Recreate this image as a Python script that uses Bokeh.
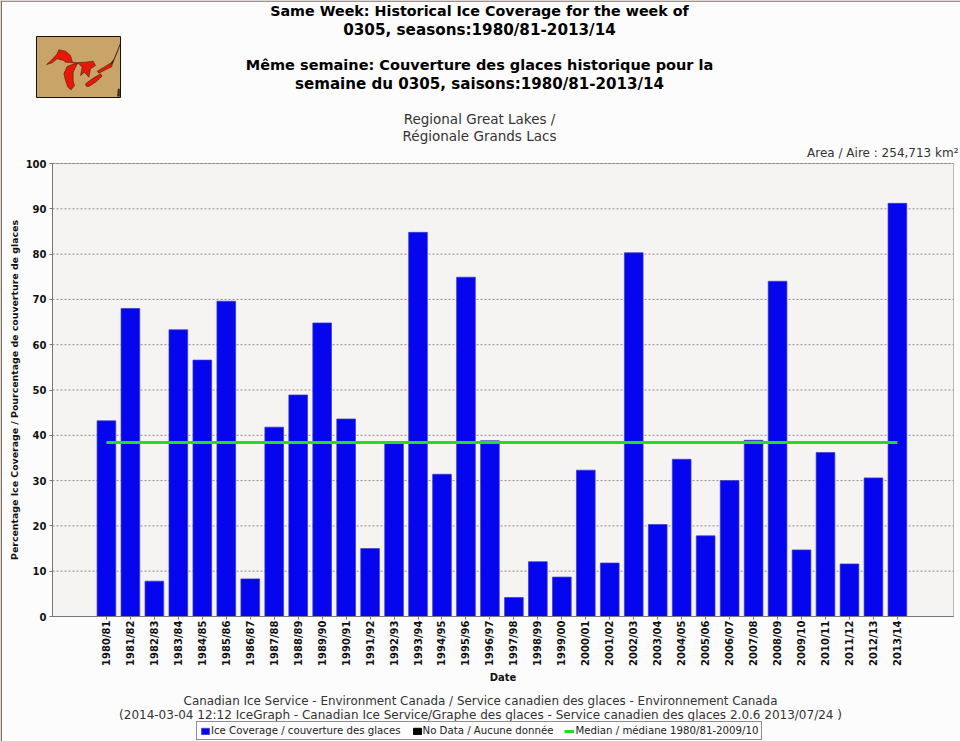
from bokeh.plotting import figure
from bokeh.models import Range1d, FixedTicker, Label, Legend, LegendItem, PolyAnnotation
from bokeh.embed import file_html
from bokeh.resources import INLINE

seasons = ["1980/81","1981/82","1982/83","1983/84","1984/85","1985/86","1986/87","1987/88","1988/89","1989/90",
           "1990/91","1991/92","1992/93","1993/94","1994/95","1995/96","1996/97","1997/98","1998/99","1999/00",
           "2000/01","2001/02","2002/03","2003/04","2004/05","2005/06","2006/07","2007/08","2008/09","2009/10",
           "2010/11","2011/12","2012/13","2013/14"]
coverage = [43.2,68.0,7.8,63.3,56.6,69.6,8.3,41.8,48.9,64.8,43.6,15.0,38.6,84.8,31.4,74.9,38.8,4.2,12.1,8.7,
            32.3,11.8,80.3,20.3,34.7,17.8,30.0,38.9,74.0,14.7,36.2,11.6,30.6,91.2]
median = 38.4
yticks = list(range(0, 101, 10))
title_lines = ["Same Week: Historical Ice Coverage for the week of", "0305, seasons:1980/81-2013/14",
               "Même semaine: Couverture des glaces historique pour la", "semaine du 0305, saisons:1980/81-2013/14"]
sub_lines = ["Regional Great Lakes /", "Régionale Grands Lacs"]
foot_lines = ["Canadian Ice Service - Environment Canada / Service canadien des glaces - Environnement Canada",
              "(2014-03-04 12:12 IceGraph - Canadian Ice Service/Graphe des glaces - Service canadien des glaces 2.0.6 2013/07/24 )"]
area_text = "Area / Aire : 254,713 km²"
ylabel = "Percentage Ice Coverage / Pourcentage de couverture de glaces"
legend_labels = ["Ice Coverage / couverture des glaces", "No Data / Aucune donnée", "Median / médiane 1980/81-2009/10"]

# The plot area fills the whole canvas, so that nothing around the bars is clipped;
# the visible panel is a sub-rectangle of it.
FL, FR, FT, FB = 52, 953, 163, 616
W, H = 960, 741
XMIN, XMAX, YMIN, YMAX = -2.25, 35.34, 0, 100
FONT = "DejaVu Sans"
ppx = (FR - FL) / (XMAX - XMIN)
ppy = (FB - FT) / (YMAX - YMIN)

p = figure(width=W, height=H, output_backend="svg", toolbar_location=None,
           x_range=Range1d(XMIN - FL / ppx, XMAX + (W - FR) / ppx),
           y_range=Range1d(YMIN - (H - FB) / ppy, YMAX + FT / ppy),
           min_border_left=0, min_border_right=0, min_border_top=0, min_border_bottom=0)
p.background_fill_color = "#fdfcfc"
p.border_fill_color = "#fdfcfc"
p.outline_line_color = None
p.grid.visible = False

p.quad(left=XMIN, right=XMAX, bottom=YMIN, top=YMAX, fill_color="#f5f4f3", line_color="#b8b8b8", line_width=1)
p.segment(x0=[XMIN] * len(yticks), x1=[XMAX] * len(yticks), y0=yticks, y1=yticks,
          line_color="#86686a", line_dash="2 2", line_width=0.8)

ax = p.yaxis[0]
ax.fixed_location = XMIN
ax.bounds = (YMIN, YMAX)
ax.ticker = FixedTicker(ticks=yticks)
ax.minor_tick_line_color = None
ax.axis_line_color = "#777777"
ax.major_tick_line_color = "#777777"
ax.major_tick_in = 0
ax.major_tick_out = 3
ax.major_label_standoff = 3
ax.major_label_text_font = FONT
ax.major_label_text_font_style = "bold"
ax.major_label_text_font_size = "10px"
ax.major_label_text_color = "#111111"
ax.axis_label = ylabel
ax.axis_label_text_font = FONT
ax.axis_label_text_font_style = "bold"
ax.axis_label_text_font_size = "9.4px"
ax.axis_label_text_color = "#111111"
ax.axis_label_standoff = 3

xs = list(range(len(seasons)))
bx = p.xaxis[0]
bx.fixed_location = YMIN
bx.bounds = (XMIN, XMAX)
bx.ticker = FixedTicker(ticks=xs)
bx.major_label_overrides = dict(zip(xs, seasons))
bx.major_label_orientation = 1.5708
bx.major_label_standoff = 1
bx.major_label_text_font = FONT
bx.major_label_text_font_style = "bold"
bx.major_label_text_font_size = "10px"
bx.major_label_text_color = "#111111"
bx.minor_tick_line_color = None
bx.axis_line_color = "#777777"
bx.major_tick_line_color = "#777777"
bx.major_tick_in = 0
bx.major_tick_out = 3
bx.axis_label = "Date"
bx.axis_label_text_font = FONT
bx.axis_label_text_font_style = "bold"
bx.axis_label_text_font_size = "10px"
bx.axis_label_text_color = "#111111"
bx.axis_label_standoff = 3

bars = p.vbar(x=xs, top=coverage, width=0.78, bottom=0, fill_color="#0505ee", line_color="#3a3ac8", line_width=0.7)
nodata = p.vbar(x=[0], top=[float("nan")], width=0.78, bottom=0, fill_color="#000000", line_color="#000000")
med = p.line(x=[xs[0], xs[-1]], y=[median, median], line_color="#22dd22", line_width=3)

def sy(y): return H - y

def lab(x, y, t, size, bold=False, align="center", color="#000000"):
    p.add_layout(Label(x=x, y=sy(y), x_units="screen", y_units="screen", text=t,
                       text_font=FONT, text_font_size=size, text_font_style="bold" if bold else "normal",
                       text_color=color, text_align=align, text_baseline="middle"))

for yy, t, s in zip([10, 29, 64, 83], title_lines, ["14.3px", "15.2px", "14.5px", "15.1px"]):
    lab(479, yy, t, s, bold=True)
for yy, t in zip([118, 135], sub_lines):
    lab(479, yy, t, "13.5px", color="#333333")
lab(958, 152, area_text, "12px", align="right", color="#333333")
for yy, t, s in zip([700, 714], foot_lines, ["11.9px", "12px"]):
    lab(480, yy, t, s, color="#333333")

def poly(pts, fill, line=None, lw=0):
    p.add_layout(PolyAnnotation(xs=[a for a, _ in pts], ys=[sy(b) for _, b in pts],
                                xs_units="screen", ys_units="screen", fill_color=fill, fill_alpha=1,
                                line_color=line, line_width=lw, line_alpha=1))

# Scanned picture's brown edge, top and left
poly([(0, 0), (960, 0), (960, 1.2), (0, 1.2)], "#7d6e62")
poly([(0, 0), (1.5, 0), (1.5, 741), (0, 741)], "#7d6e62")

# Great Lakes inset map, outlines traced on a 3x crop whose corner is (30, 30)
def mz(pts): return [(a / 3 + 30, b / 3 + 30) for a, b in pts]
LAKE, SHORE = "#e81808", "#301008"
poly([(36, 36), (120, 36), (120, 97), (36, 97)], "#c8a468", "#1a1208", 1)
poly(mz([(48,102),(62,90),(80,70),(85,58),(105,62),(120,75),(125,92),(130,97),(105,95),(100,90),(80,85),(65,97)]), LAKE, SHORE, 0.5)
poly(mz([(100,130),(110,108),(130,100),(140,100),(128,125),(128,150),(132,165),(122,178),(112,170),(105,150)]), LAKE, SHORE, 0.5)
poly(mz([(130,97),(165,95),(188,92),(195,105),(180,115),(175,140),(162,125),(150,135),(155,110),(145,100)]), LAKE, SHORE, 0.5)
poly(mz([(165,160),(185,145),(210,130),(215,137),(195,155),(175,168),(167,167)]), LAKE, SHORE, 0.5)
poly(mz([(200,122),(220,110),(240,98),(245,108),(225,118),(205,128)]), LAKE, SHORE, 0.5)
poly(mz([(240,98),(250,85),(258,65),(268,40),(270,42),(260,68),(252,88),(245,105)]), "#4a2010")
poly(mz([(262,175),(268,175),(268,198),(260,198)]), "#3a2a18")

legend = Legend(items=[LegendItem(label=legend_labels[0], renderers=[bars]),
                       LegendItem(label=legend_labels[1], renderers=[nodata]),
                       LegendItem(label=legend_labels[2], renderers=[med])],
                orientation="horizontal", location=(196, sy(740)),
                glyph_width=10, glyph_height=8, label_standoff=1, spacing=11, margin=0, padding=3,
                label_text_font=FONT, label_text_font_size="10.2px", label_text_color="#222222",
                label_height=8, background_fill_color="#fdfcfc", background_fill_alpha=1,
                border_line_color="#222222", border_line_width=1)
p.add_layout(legend, "center")

open("out.html", "w").write(file_html(p, INLINE))
